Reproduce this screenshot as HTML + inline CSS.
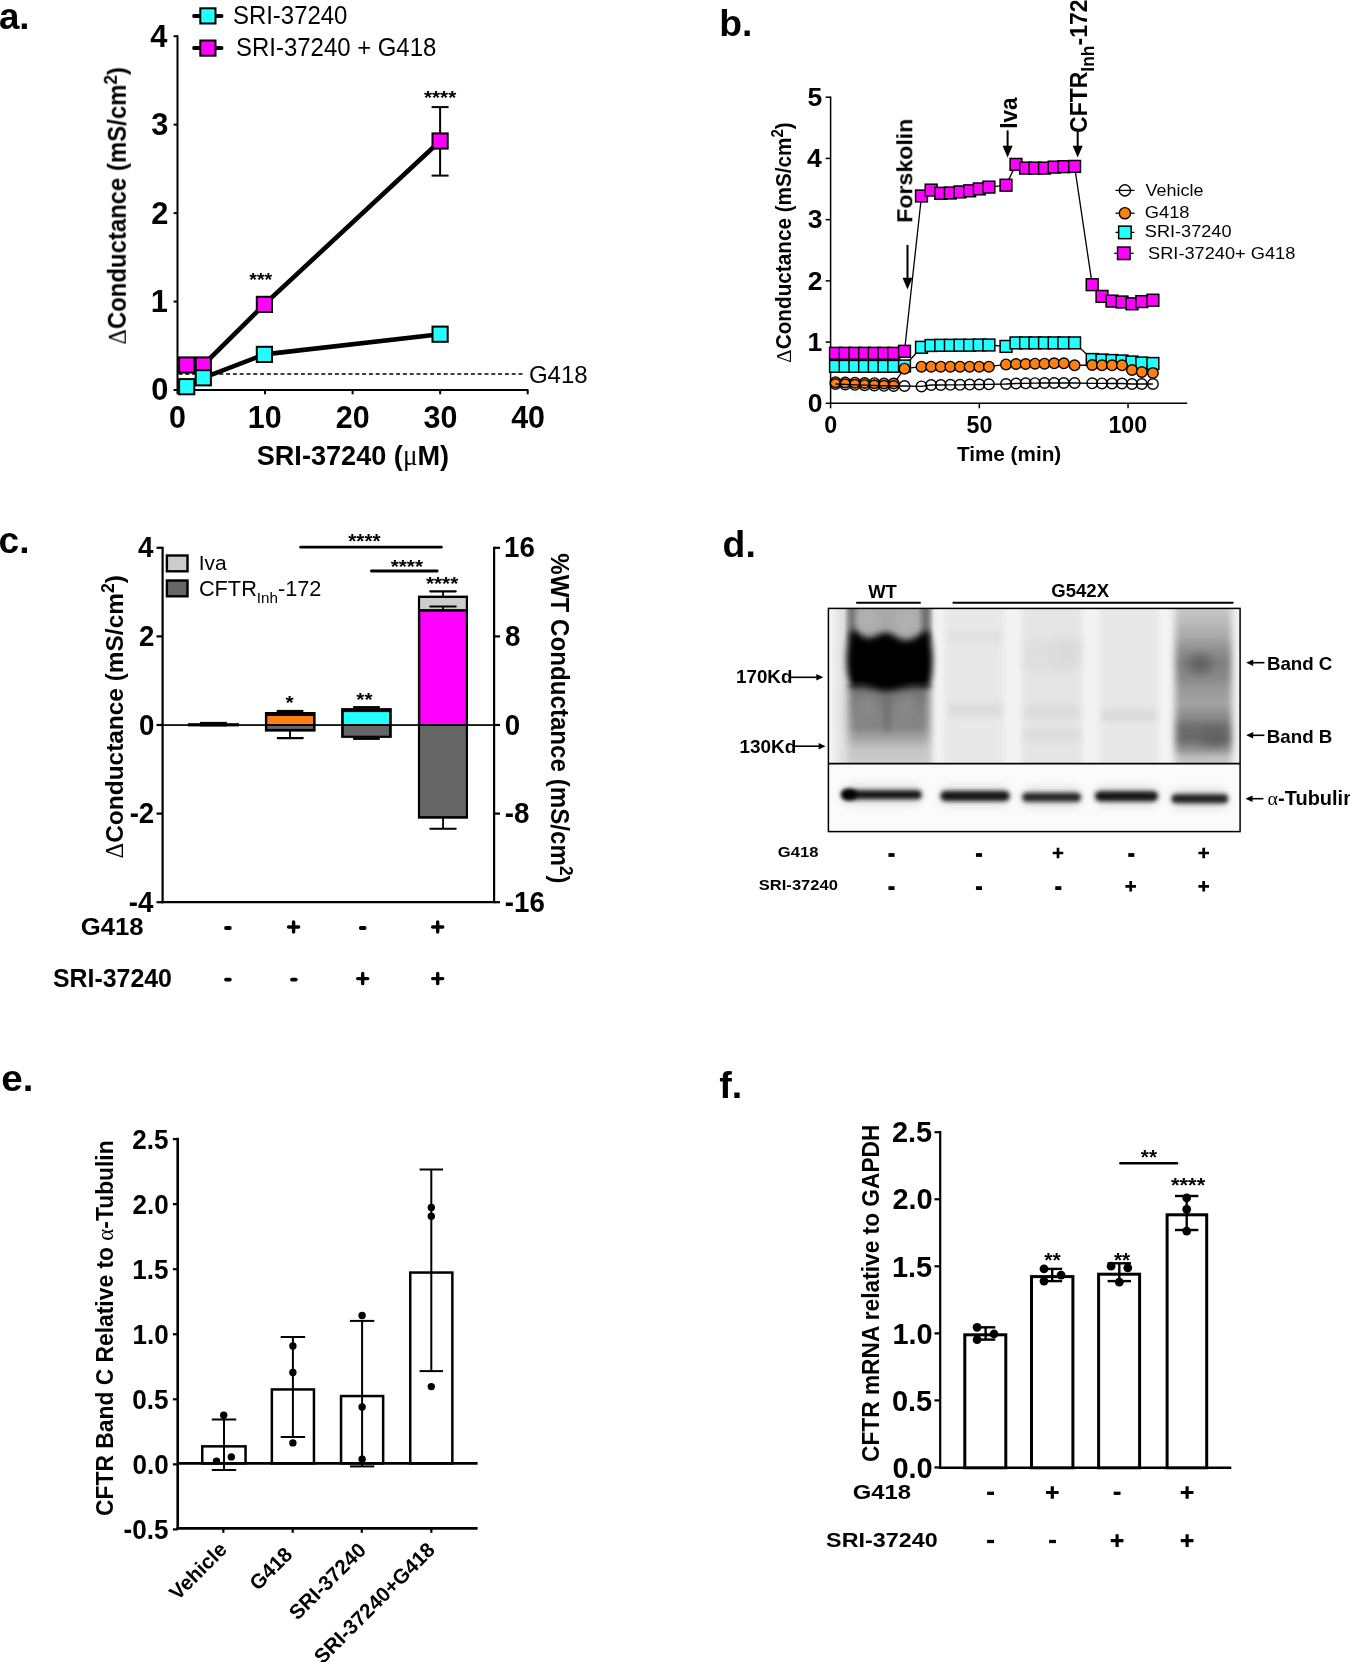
<!DOCTYPE html>
<html><head><meta charset="utf-8"><style>
html,body{margin:0;padding:0;background:#fff;}
body{width:1350px;height:1662px;overflow:hidden;}
svg{display:block;}
text{font-family:"Liberation Sans", sans-serif;}
</style></head><body>
<svg width="1350" height="1662" viewBox="0 0 1350 1662">
<rect x="0" y="0" width="1350" height="1662" fill="#fff"/>
<line x1="177.50" y1="35.20" x2="177.50" y2="391.00" stroke="#000" stroke-width="2" />
<line x1="176.50" y1="390.00" x2="528.30" y2="390.00" stroke="#000" stroke-width="2" />
<line x1="173.60" y1="390.00" x2="177.50" y2="390.00" stroke="#000" stroke-width="2" />
<line x1="173.60" y1="301.55" x2="177.50" y2="301.55" stroke="#000" stroke-width="2" />
<line x1="173.60" y1="213.10" x2="177.50" y2="213.10" stroke="#000" stroke-width="2" />
<line x1="173.60" y1="124.65" x2="177.50" y2="124.65" stroke="#000" stroke-width="2" />
<line x1="173.60" y1="36.20" x2="177.50" y2="36.20" stroke="#000" stroke-width="2" />
<line x1="177.50" y1="390.00" x2="177.50" y2="394.30" stroke="#000" stroke-width="2" />
<line x1="265.05" y1="390.00" x2="265.05" y2="394.30" stroke="#000" stroke-width="2" />
<line x1="352.60" y1="390.00" x2="352.60" y2="394.30" stroke="#000" stroke-width="2" />
<line x1="440.15" y1="390.00" x2="440.15" y2="394.30" stroke="#000" stroke-width="2" />
<line x1="527.70" y1="390.00" x2="527.70" y2="394.30" stroke="#000" stroke-width="2" />
<line x1="178.50" y1="374.10" x2="523.70" y2="374.10" stroke="#000" stroke-width="1.5" stroke-dasharray="4 2.8"/>
<line x1="440.10" y1="107.10" x2="440.10" y2="175.60" stroke="#000" stroke-width="2" />
<line x1="431.60" y1="107.10" x2="448.60" y2="107.10" stroke="#000" stroke-width="2" />
<line x1="431.60" y1="175.60" x2="448.60" y2="175.60" stroke="#000" stroke-width="2" />
<polyline points="186.70,365.00 203.30,365.00 264.40,304.40 440.10,141.00" fill="none" stroke="#000" stroke-width="4.6" stroke-linejoin="round" />
<polyline points="186.70,386.70 203.30,377.80 264.40,354.40 440.10,334.20" fill="none" stroke="#000" stroke-width="4.6" stroke-linejoin="round" />
<rect x="179.10" y="357.40" width="15.20" height="15.20" fill="#ff00ff" stroke="#000" stroke-width="2" />
<rect x="195.70" y="357.40" width="15.20" height="15.20" fill="#ff00ff" stroke="#000" stroke-width="2" />
<rect x="256.80" y="296.80" width="15.20" height="15.20" fill="#ff00ff" stroke="#000" stroke-width="2" />
<rect x="432.50" y="133.40" width="15.20" height="15.20" fill="#ff00ff" stroke="#000" stroke-width="2" />
<rect x="179.10" y="379.10" width="15.20" height="15.20" fill="#22ffff" stroke="#000" stroke-width="2" />
<rect x="195.70" y="370.20" width="15.20" height="15.20" fill="#22ffff" stroke="#000" stroke-width="2" />
<rect x="256.80" y="346.80" width="15.20" height="15.20" fill="#22ffff" stroke="#000" stroke-width="2" />
<rect x="432.50" y="326.60" width="15.20" height="15.20" fill="#22ffff" stroke="#000" stroke-width="2" />
<line x1="194.10" y1="16.10" x2="221.50" y2="16.10" stroke="#000" stroke-width="4" stroke-linecap="round"/>
<rect x="200.30" y="8.30" width="15.20" height="15.20" fill="#22ffff" stroke="#000" stroke-width="2" />
<line x1="194.10" y1="48.10" x2="221.50" y2="48.10" stroke="#000" stroke-width="4" stroke-linecap="round"/>
<rect x="200.30" y="40.50" width="15.20" height="15.20" fill="#ff00ff" stroke="#000" stroke-width="2" />
<line x1="830.60" y1="96.45" x2="830.60" y2="404.05" stroke="#000" stroke-width="1.5" />
<line x1="829.85" y1="403.30" x2="1187.20" y2="403.30" stroke="#000" stroke-width="1.5" />
<line x1="825.60" y1="403.30" x2="830.60" y2="403.30" stroke="#000" stroke-width="1.5" />
<line x1="825.60" y1="342.08" x2="830.60" y2="342.08" stroke="#000" stroke-width="1.5" />
<line x1="825.60" y1="280.86" x2="830.60" y2="280.86" stroke="#000" stroke-width="1.5" />
<line x1="825.60" y1="219.64" x2="830.60" y2="219.64" stroke="#000" stroke-width="1.5" />
<line x1="825.60" y1="158.42" x2="830.60" y2="158.42" stroke="#000" stroke-width="1.5" />
<line x1="825.60" y1="97.20" x2="830.60" y2="97.20" stroke="#000" stroke-width="1.5" />
<line x1="830.60" y1="403.30" x2="830.60" y2="408.30" stroke="#000" stroke-width="1.5" />
<line x1="979.33" y1="403.30" x2="979.33" y2="408.30" stroke="#000" stroke-width="1.5" />
<line x1="1128.05" y1="403.30" x2="1128.05" y2="408.30" stroke="#000" stroke-width="1.5" />
<line x1="907.50" y1="244.90" x2="907.50" y2="278.80" stroke="#000" stroke-width="2" />
<polygon points="902.5,277.8 912.5,277.8 907.5,289.5" fill="#000"/>
<line x1="1007.60" y1="130.40" x2="1007.60" y2="146.80" stroke="#000" stroke-width="2" />
<polygon points="1002.6,145.8 1012.6,145.8 1007.6,157.5" fill="#000"/>
<line x1="1077.70" y1="132.00" x2="1077.70" y2="146.80" stroke="#000" stroke-width="2" />
<polygon points="1072.7,145.8 1082.7,145.8 1077.7,157.5" fill="#000"/>
<polyline points="835.50,353.30 845.20,353.30 854.90,353.30 864.60,353.30 874.30,353.30 884.00,353.30 893.70,353.30 904.50,351.30 921.50,196.00 931.13,190.10 940.76,193.30 950.39,193.00 960.02,191.90 969.65,190.80 979.28,188.90 988.91,187.10 1006.00,185.20 1016.00,164.40 1025.60,168.10 1035.00,168.10 1044.50,168.10 1054.20,167.10 1063.80,166.70 1074.60,166.40 1092.20,284.70 1102.00,296.40 1112.00,301.10 1122.00,302.00 1132.00,303.80 1141.80,301.60 1152.90,300.20" fill="none" stroke="#000" stroke-width="1.3" stroke-linejoin="round" />
<rect x="829.60" y="347.40" width="11.80" height="11.80" fill="#ff00ff" stroke="#000" stroke-width="1.5" />
<rect x="839.30" y="347.40" width="11.80" height="11.80" fill="#ff00ff" stroke="#000" stroke-width="1.5" />
<rect x="849.00" y="347.40" width="11.80" height="11.80" fill="#ff00ff" stroke="#000" stroke-width="1.5" />
<rect x="858.70" y="347.40" width="11.80" height="11.80" fill="#ff00ff" stroke="#000" stroke-width="1.5" />
<rect x="868.40" y="347.40" width="11.80" height="11.80" fill="#ff00ff" stroke="#000" stroke-width="1.5" />
<rect x="878.10" y="347.40" width="11.80" height="11.80" fill="#ff00ff" stroke="#000" stroke-width="1.5" />
<rect x="887.80" y="347.40" width="11.80" height="11.80" fill="#ff00ff" stroke="#000" stroke-width="1.5" />
<rect x="898.60" y="345.40" width="11.80" height="11.80" fill="#ff00ff" stroke="#000" stroke-width="1.5" />
<rect x="915.60" y="190.10" width="11.80" height="11.80" fill="#ff00ff" stroke="#000" stroke-width="1.5" />
<rect x="925.23" y="184.20" width="11.80" height="11.80" fill="#ff00ff" stroke="#000" stroke-width="1.5" />
<rect x="934.86" y="187.40" width="11.80" height="11.80" fill="#ff00ff" stroke="#000" stroke-width="1.5" />
<rect x="944.49" y="187.10" width="11.80" height="11.80" fill="#ff00ff" stroke="#000" stroke-width="1.5" />
<rect x="954.12" y="186.00" width="11.80" height="11.80" fill="#ff00ff" stroke="#000" stroke-width="1.5" />
<rect x="963.75" y="184.90" width="11.80" height="11.80" fill="#ff00ff" stroke="#000" stroke-width="1.5" />
<rect x="973.38" y="183.00" width="11.80" height="11.80" fill="#ff00ff" stroke="#000" stroke-width="1.5" />
<rect x="983.01" y="181.20" width="11.80" height="11.80" fill="#ff00ff" stroke="#000" stroke-width="1.5" />
<rect x="1000.10" y="179.30" width="11.80" height="11.80" fill="#ff00ff" stroke="#000" stroke-width="1.5" />
<rect x="1010.10" y="158.50" width="11.80" height="11.80" fill="#ff00ff" stroke="#000" stroke-width="1.5" />
<rect x="1019.70" y="162.20" width="11.80" height="11.80" fill="#ff00ff" stroke="#000" stroke-width="1.5" />
<rect x="1029.10" y="162.20" width="11.80" height="11.80" fill="#ff00ff" stroke="#000" stroke-width="1.5" />
<rect x="1038.60" y="162.20" width="11.80" height="11.80" fill="#ff00ff" stroke="#000" stroke-width="1.5" />
<rect x="1048.30" y="161.20" width="11.80" height="11.80" fill="#ff00ff" stroke="#000" stroke-width="1.5" />
<rect x="1057.90" y="160.80" width="11.80" height="11.80" fill="#ff00ff" stroke="#000" stroke-width="1.5" />
<rect x="1068.70" y="160.50" width="11.80" height="11.80" fill="#ff00ff" stroke="#000" stroke-width="1.5" />
<rect x="1086.30" y="278.80" width="11.80" height="11.80" fill="#ff00ff" stroke="#000" stroke-width="1.5" />
<rect x="1096.10" y="290.50" width="11.80" height="11.80" fill="#ff00ff" stroke="#000" stroke-width="1.5" />
<rect x="1106.10" y="295.20" width="11.80" height="11.80" fill="#ff00ff" stroke="#000" stroke-width="1.5" />
<rect x="1116.10" y="296.10" width="11.80" height="11.80" fill="#ff00ff" stroke="#000" stroke-width="1.5" />
<rect x="1126.10" y="297.90" width="11.80" height="11.80" fill="#ff00ff" stroke="#000" stroke-width="1.5" />
<rect x="1135.90" y="295.70" width="11.80" height="11.80" fill="#ff00ff" stroke="#000" stroke-width="1.5" />
<rect x="1147.00" y="294.30" width="11.80" height="11.80" fill="#ff00ff" stroke="#000" stroke-width="1.5" />
<polyline points="835.50,366.30 845.20,366.30 854.90,366.30 864.60,366.30 874.30,366.30 884.00,366.30 893.70,366.30 904.50,366.00 921.50,347.30 931.13,345.50 940.76,345.30 950.39,345.30 960.02,345.20 969.65,345.20 979.28,345.00 988.91,345.00 1006.00,346.40 1016.00,342.90 1025.60,342.90 1035.00,342.90 1044.50,342.90 1054.20,342.90 1063.80,342.90 1074.60,342.90 1092.20,359.50 1102.00,360.00 1112.00,360.50 1122.00,361.00 1132.00,362.00 1141.80,363.00 1152.90,363.50" fill="none" stroke="#000" stroke-width="1.3" stroke-linejoin="round" />
<rect x="829.60" y="360.40" width="11.80" height="11.80" fill="#22ffff" stroke="#000" stroke-width="1.5" />
<rect x="839.30" y="360.40" width="11.80" height="11.80" fill="#22ffff" stroke="#000" stroke-width="1.5" />
<rect x="849.00" y="360.40" width="11.80" height="11.80" fill="#22ffff" stroke="#000" stroke-width="1.5" />
<rect x="858.70" y="360.40" width="11.80" height="11.80" fill="#22ffff" stroke="#000" stroke-width="1.5" />
<rect x="868.40" y="360.40" width="11.80" height="11.80" fill="#22ffff" stroke="#000" stroke-width="1.5" />
<rect x="878.10" y="360.40" width="11.80" height="11.80" fill="#22ffff" stroke="#000" stroke-width="1.5" />
<rect x="887.80" y="360.40" width="11.80" height="11.80" fill="#22ffff" stroke="#000" stroke-width="1.5" />
<rect x="898.60" y="360.10" width="11.80" height="11.80" fill="#22ffff" stroke="#000" stroke-width="1.5" />
<rect x="915.60" y="341.40" width="11.80" height="11.80" fill="#22ffff" stroke="#000" stroke-width="1.5" />
<rect x="925.23" y="339.60" width="11.80" height="11.80" fill="#22ffff" stroke="#000" stroke-width="1.5" />
<rect x="934.86" y="339.40" width="11.80" height="11.80" fill="#22ffff" stroke="#000" stroke-width="1.5" />
<rect x="944.49" y="339.40" width="11.80" height="11.80" fill="#22ffff" stroke="#000" stroke-width="1.5" />
<rect x="954.12" y="339.30" width="11.80" height="11.80" fill="#22ffff" stroke="#000" stroke-width="1.5" />
<rect x="963.75" y="339.30" width="11.80" height="11.80" fill="#22ffff" stroke="#000" stroke-width="1.5" />
<rect x="973.38" y="339.10" width="11.80" height="11.80" fill="#22ffff" stroke="#000" stroke-width="1.5" />
<rect x="983.01" y="339.10" width="11.80" height="11.80" fill="#22ffff" stroke="#000" stroke-width="1.5" />
<rect x="1000.10" y="340.50" width="11.80" height="11.80" fill="#22ffff" stroke="#000" stroke-width="1.5" />
<rect x="1010.10" y="337.00" width="11.80" height="11.80" fill="#22ffff" stroke="#000" stroke-width="1.5" />
<rect x="1019.70" y="337.00" width="11.80" height="11.80" fill="#22ffff" stroke="#000" stroke-width="1.5" />
<rect x="1029.10" y="337.00" width="11.80" height="11.80" fill="#22ffff" stroke="#000" stroke-width="1.5" />
<rect x="1038.60" y="337.00" width="11.80" height="11.80" fill="#22ffff" stroke="#000" stroke-width="1.5" />
<rect x="1048.30" y="337.00" width="11.80" height="11.80" fill="#22ffff" stroke="#000" stroke-width="1.5" />
<rect x="1057.90" y="337.00" width="11.80" height="11.80" fill="#22ffff" stroke="#000" stroke-width="1.5" />
<rect x="1068.70" y="337.00" width="11.80" height="11.80" fill="#22ffff" stroke="#000" stroke-width="1.5" />
<rect x="1086.30" y="353.60" width="11.80" height="11.80" fill="#22ffff" stroke="#000" stroke-width="1.5" />
<rect x="1096.10" y="354.10" width="11.80" height="11.80" fill="#22ffff" stroke="#000" stroke-width="1.5" />
<rect x="1106.10" y="354.60" width="11.80" height="11.80" fill="#22ffff" stroke="#000" stroke-width="1.5" />
<rect x="1116.10" y="355.10" width="11.80" height="11.80" fill="#22ffff" stroke="#000" stroke-width="1.5" />
<rect x="1126.10" y="356.10" width="11.80" height="11.80" fill="#22ffff" stroke="#000" stroke-width="1.5" />
<rect x="1135.90" y="357.10" width="11.80" height="11.80" fill="#22ffff" stroke="#000" stroke-width="1.5" />
<rect x="1147.00" y="357.60" width="11.80" height="11.80" fill="#22ffff" stroke="#000" stroke-width="1.5" />
<polyline points="835.50,382.20 845.20,382.50 854.90,382.70 864.60,383.00 874.30,383.20 884.00,383.40 893.70,383.60 904.50,368.70 921.50,366.70 931.13,366.70 940.76,366.70 950.39,366.70 960.02,366.70 969.65,366.70 979.28,366.70 988.91,366.70 1006.00,364.40 1016.00,364.00 1025.60,364.00 1035.00,363.70 1044.50,363.70 1054.20,363.30 1063.80,363.30 1074.60,365.30 1092.20,365.00 1102.00,365.30 1112.00,365.30 1122.00,365.30 1132.00,370.00 1141.80,372.00 1152.90,373.00" fill="none" stroke="#000" stroke-width="1.3" stroke-linejoin="round" />
<circle cx="835.50" cy="382.20" r="5.3" fill="#ff8010" stroke="#000" stroke-width="1.4"/>
<circle cx="845.20" cy="382.50" r="5.3" fill="#ff8010" stroke="#000" stroke-width="1.4"/>
<circle cx="854.90" cy="382.70" r="5.3" fill="#ff8010" stroke="#000" stroke-width="1.4"/>
<circle cx="864.60" cy="383.00" r="5.3" fill="#ff8010" stroke="#000" stroke-width="1.4"/>
<circle cx="874.30" cy="383.20" r="5.3" fill="#ff8010" stroke="#000" stroke-width="1.4"/>
<circle cx="884.00" cy="383.40" r="5.3" fill="#ff8010" stroke="#000" stroke-width="1.4"/>
<circle cx="893.70" cy="383.60" r="5.3" fill="#ff8010" stroke="#000" stroke-width="1.4"/>
<circle cx="904.50" cy="368.70" r="5.3" fill="#ff8010" stroke="#000" stroke-width="1.4"/>
<circle cx="921.50" cy="366.70" r="5.3" fill="#ff8010" stroke="#000" stroke-width="1.4"/>
<circle cx="931.13" cy="366.70" r="5.3" fill="#ff8010" stroke="#000" stroke-width="1.4"/>
<circle cx="940.76" cy="366.70" r="5.3" fill="#ff8010" stroke="#000" stroke-width="1.4"/>
<circle cx="950.39" cy="366.70" r="5.3" fill="#ff8010" stroke="#000" stroke-width="1.4"/>
<circle cx="960.02" cy="366.70" r="5.3" fill="#ff8010" stroke="#000" stroke-width="1.4"/>
<circle cx="969.65" cy="366.70" r="5.3" fill="#ff8010" stroke="#000" stroke-width="1.4"/>
<circle cx="979.28" cy="366.70" r="5.3" fill="#ff8010" stroke="#000" stroke-width="1.4"/>
<circle cx="988.91" cy="366.70" r="5.3" fill="#ff8010" stroke="#000" stroke-width="1.4"/>
<circle cx="1006.00" cy="364.40" r="5.3" fill="#ff8010" stroke="#000" stroke-width="1.4"/>
<circle cx="1016.00" cy="364.00" r="5.3" fill="#ff8010" stroke="#000" stroke-width="1.4"/>
<circle cx="1025.60" cy="364.00" r="5.3" fill="#ff8010" stroke="#000" stroke-width="1.4"/>
<circle cx="1035.00" cy="363.70" r="5.3" fill="#ff8010" stroke="#000" stroke-width="1.4"/>
<circle cx="1044.50" cy="363.70" r="5.3" fill="#ff8010" stroke="#000" stroke-width="1.4"/>
<circle cx="1054.20" cy="363.30" r="5.3" fill="#ff8010" stroke="#000" stroke-width="1.4"/>
<circle cx="1063.80" cy="363.30" r="5.3" fill="#ff8010" stroke="#000" stroke-width="1.4"/>
<circle cx="1074.60" cy="365.30" r="5.3" fill="#ff8010" stroke="#000" stroke-width="1.4"/>
<circle cx="1092.20" cy="365.00" r="5.3" fill="#ff8010" stroke="#000" stroke-width="1.4"/>
<circle cx="1102.00" cy="365.30" r="5.3" fill="#ff8010" stroke="#000" stroke-width="1.4"/>
<circle cx="1112.00" cy="365.30" r="5.3" fill="#ff8010" stroke="#000" stroke-width="1.4"/>
<circle cx="1122.00" cy="365.30" r="5.3" fill="#ff8010" stroke="#000" stroke-width="1.4"/>
<circle cx="1132.00" cy="370.00" r="5.3" fill="#ff8010" stroke="#000" stroke-width="1.4"/>
<circle cx="1141.80" cy="372.00" r="5.3" fill="#ff8010" stroke="#000" stroke-width="1.4"/>
<circle cx="1152.90" cy="373.00" r="5.3" fill="#ff8010" stroke="#000" stroke-width="1.4"/>
<polyline points="835.50,384.00 845.20,384.40 854.90,384.80 864.60,385.20 874.30,385.50 884.00,385.80 893.70,386.00 904.50,386.00 921.50,386.40 931.13,385.00 940.76,385.00 950.39,384.80 960.02,384.80 969.65,384.60 979.28,384.50 988.91,384.30 1006.00,384.00 1016.00,383.50 1025.60,383.30 1035.00,383.20 1044.50,383.00 1054.20,383.00 1063.80,383.00 1074.60,383.00 1092.20,383.30 1102.00,383.40 1112.00,383.50 1122.00,383.50 1132.00,384.00 1141.80,384.00 1152.90,384.00" fill="none" stroke="#000" stroke-width="1.3" stroke-linejoin="round" />
<circle cx="835.50" cy="384.00" r="5.3" fill="none" stroke="#000" stroke-width="1.4"/>
<circle cx="845.20" cy="384.40" r="5.3" fill="none" stroke="#000" stroke-width="1.4"/>
<circle cx="854.90" cy="384.80" r="5.3" fill="none" stroke="#000" stroke-width="1.4"/>
<circle cx="864.60" cy="385.20" r="5.3" fill="none" stroke="#000" stroke-width="1.4"/>
<circle cx="874.30" cy="385.50" r="5.3" fill="none" stroke="#000" stroke-width="1.4"/>
<circle cx="884.00" cy="385.80" r="5.3" fill="none" stroke="#000" stroke-width="1.4"/>
<circle cx="893.70" cy="386.00" r="5.3" fill="none" stroke="#000" stroke-width="1.4"/>
<circle cx="904.50" cy="386.00" r="5.3" fill="none" stroke="#000" stroke-width="1.4"/>
<circle cx="921.50" cy="386.40" r="5.3" fill="none" stroke="#000" stroke-width="1.4"/>
<circle cx="931.13" cy="385.00" r="5.3" fill="none" stroke="#000" stroke-width="1.4"/>
<circle cx="940.76" cy="385.00" r="5.3" fill="none" stroke="#000" stroke-width="1.4"/>
<circle cx="950.39" cy="384.80" r="5.3" fill="none" stroke="#000" stroke-width="1.4"/>
<circle cx="960.02" cy="384.80" r="5.3" fill="none" stroke="#000" stroke-width="1.4"/>
<circle cx="969.65" cy="384.60" r="5.3" fill="none" stroke="#000" stroke-width="1.4"/>
<circle cx="979.28" cy="384.50" r="5.3" fill="none" stroke="#000" stroke-width="1.4"/>
<circle cx="988.91" cy="384.30" r="5.3" fill="none" stroke="#000" stroke-width="1.4"/>
<circle cx="1006.00" cy="384.00" r="5.3" fill="none" stroke="#000" stroke-width="1.4"/>
<circle cx="1016.00" cy="383.50" r="5.3" fill="none" stroke="#000" stroke-width="1.4"/>
<circle cx="1025.60" cy="383.30" r="5.3" fill="none" stroke="#000" stroke-width="1.4"/>
<circle cx="1035.00" cy="383.20" r="5.3" fill="none" stroke="#000" stroke-width="1.4"/>
<circle cx="1044.50" cy="383.00" r="5.3" fill="none" stroke="#000" stroke-width="1.4"/>
<circle cx="1054.20" cy="383.00" r="5.3" fill="none" stroke="#000" stroke-width="1.4"/>
<circle cx="1063.80" cy="383.00" r="5.3" fill="none" stroke="#000" stroke-width="1.4"/>
<circle cx="1074.60" cy="383.00" r="5.3" fill="none" stroke="#000" stroke-width="1.4"/>
<circle cx="1092.20" cy="383.30" r="5.3" fill="none" stroke="#000" stroke-width="1.4"/>
<circle cx="1102.00" cy="383.40" r="5.3" fill="none" stroke="#000" stroke-width="1.4"/>
<circle cx="1112.00" cy="383.50" r="5.3" fill="none" stroke="#000" stroke-width="1.4"/>
<circle cx="1122.00" cy="383.50" r="5.3" fill="none" stroke="#000" stroke-width="1.4"/>
<circle cx="1132.00" cy="384.00" r="5.3" fill="none" stroke="#000" stroke-width="1.4"/>
<circle cx="1141.80" cy="384.00" r="5.3" fill="none" stroke="#000" stroke-width="1.4"/>
<circle cx="1152.90" cy="384.00" r="5.3" fill="none" stroke="#000" stroke-width="1.4"/>
<circle cx="1124.90" cy="190.40" r="5.6" fill="#fff" stroke="#000" stroke-width="1.4"/>
<line x1="1115.50" y1="190.40" x2="1134.50" y2="190.40" stroke="#000" stroke-width="1.3" />
<line x1="1115.50" y1="213.20" x2="1134.50" y2="213.20" stroke="#000" stroke-width="1.3" />
<circle cx="1124.90" cy="213.20" r="5.6" fill="#ff8010" stroke="#000" stroke-width="1.4"/>
<line x1="1115.50" y1="232.40" x2="1134.50" y2="232.40" stroke="#000" stroke-width="1.3" />
<rect x="1118.65" y="226.15" width="12.50" height="12.50" fill="#22ffff" stroke="#000" stroke-width="1.5" />
<line x1="1114.20" y1="253.30" x2="1133.60" y2="253.30" stroke="#000" stroke-width="1.3" />
<rect x="1117.55" y="247.05" width="12.50" height="12.50" fill="#ff00ff" stroke="#000" stroke-width="1.5" />
<line x1="162.60" y1="546.70" x2="162.60" y2="903.30" stroke="#000" stroke-width="2.2" />
<line x1="161.50" y1="902.20" x2="495.20" y2="902.20" stroke="#000" stroke-width="2.2" />
<line x1="494.10" y1="546.70" x2="494.10" y2="902.20" stroke="#000" stroke-width="2.2" />
<line x1="156.50" y1="547.80" x2="162.60" y2="547.80" stroke="#000" stroke-width="2.2" />
<line x1="156.50" y1="636.40" x2="162.60" y2="636.40" stroke="#000" stroke-width="2.2" />
<line x1="156.50" y1="725.00" x2="162.60" y2="725.00" stroke="#000" stroke-width="2.2" />
<line x1="156.50" y1="813.60" x2="162.60" y2="813.60" stroke="#000" stroke-width="2.2" />
<line x1="156.50" y1="902.20" x2="162.60" y2="902.20" stroke="#000" stroke-width="2.2" />
<line x1="494.10" y1="547.80" x2="500.00" y2="547.80" stroke="#000" stroke-width="2.2" />
<line x1="494.10" y1="636.40" x2="500.00" y2="636.40" stroke="#000" stroke-width="2.2" />
<line x1="494.10" y1="725.00" x2="500.00" y2="725.00" stroke="#000" stroke-width="2.2" />
<line x1="494.10" y1="813.60" x2="500.00" y2="813.60" stroke="#000" stroke-width="2.2" />
<line x1="494.10" y1="902.20" x2="500.00" y2="902.20" stroke="#000" stroke-width="2.2" />
<rect x="166.90" y="555.50" width="20.60" height="15.80" fill="#cccccc" stroke="#000" stroke-width="2.4" />
<rect x="166.90" y="580.50" width="20.60" height="15.80" fill="#666666" stroke="#000" stroke-width="2.4" />
<rect x="187.90" y="723.20" width="51.10" height="3.20" fill="#000" />
<rect x="200.00" y="721.90" width="26.90" height="4.50" fill="#000" />
<rect x="264.90" y="712.00" width="50.70" height="19.60" fill="#000" />
<rect x="267.30" y="716.00" width="45.80" height="8.20" fill="#ff8010" />
<rect x="267.30" y="726.00" width="45.80" height="2.90" fill="#666666" />
<rect x="276.70" y="709.90" width="26.60" height="2.60" fill="#000" />
<line x1="290.00" y1="731.00" x2="290.00" y2="738.10" stroke="#000" stroke-width="1.9" />
<line x1="277.70" y1="738.10" x2="302.80" y2="738.10" stroke="#000" stroke-width="2.1" stroke-linecap="round"/>
<rect x="341.10" y="708.10" width="50.70" height="29.80" fill="#000" />
<rect x="343.80" y="712.10" width="45.30" height="12.00" fill="#22ffff" />
<rect x="343.80" y="725.90" width="45.30" height="9.80" fill="#666666" />
<rect x="353.10" y="706.10" width="26.70" height="2.40" fill="#000" />
<rect x="353.10" y="737.50" width="26.70" height="2.40" fill="#000" />
<rect x="417.90" y="595.60" width="50.10" height="223.10" fill="#000" />
<rect x="420.10" y="598.00" width="45.70" height="11.10" fill="#cccccc" />
<rect x="420.30" y="611.70" width="45.50" height="112.50" fill="#ff00ff" />
<rect x="420.10" y="725.90" width="45.70" height="90.20" fill="#666666" />
<line x1="443.05" y1="591.40" x2="443.05" y2="596.00" stroke="#000" stroke-width="1.8" />
<line x1="430.30" y1="591.40" x2="455.70" y2="591.40" stroke="#000" stroke-width="2.1" stroke-linecap="round"/>
<line x1="443.05" y1="606.50" x2="443.05" y2="610.00" stroke="#000" stroke-width="1.8" />
<line x1="430.30" y1="606.50" x2="455.70" y2="606.50" stroke="#000" stroke-width="2.1" stroke-linecap="round"/>
<line x1="443.05" y1="818.00" x2="443.05" y2="828.70" stroke="#000" stroke-width="1.8" />
<line x1="430.30" y1="828.70" x2="455.70" y2="828.70" stroke="#000" stroke-width="2.1" stroke-linecap="round"/>
<rect x="162.60" y="724.20" width="331.50" height="1.70" fill="#000" />
<line x1="300.70" y1="547.20" x2="441.30" y2="547.20" stroke="#000" stroke-width="2.8" stroke-linecap="round"/>
<line x1="371.40" y1="571.00" x2="437.20" y2="571.00" stroke="#000" stroke-width="2.8" stroke-linecap="round"/>
<path d="M226.00,928.00H229.80" stroke="#000" stroke-width="3.8" stroke-linecap="round" fill="none"/>
<path d="M288.55,927.00H298.65M293.60,921.95V932.05" stroke="#000" stroke-width="3.4" stroke-linecap="round" fill="none"/>
<path d="M360.80,928.00H364.60" stroke="#000" stroke-width="3.8" stroke-linecap="round" fill="none"/>
<path d="M432.65,927.00H442.75M437.70,921.95V932.05" stroke="#000" stroke-width="3.4" stroke-linecap="round" fill="none"/>
<path d="M226.00,979.60H229.80" stroke="#000" stroke-width="3.8" stroke-linecap="round" fill="none"/>
<path d="M292.00,979.60H295.80" stroke="#000" stroke-width="3.8" stroke-linecap="round" fill="none"/>
<path d="M357.65,978.60H367.75M362.70,973.55V983.65" stroke="#000" stroke-width="3.4" stroke-linecap="round" fill="none"/>
<path d="M432.65,978.60H442.75M437.70,973.55V983.65" stroke="#000" stroke-width="3.4" stroke-linecap="round" fill="none"/>
<defs><filter id="b2" x="-50%" y="-50%" width="200%" height="200%"><feGaussianBlur stdDeviation="2"/></filter><filter id="b3" x="-50%" y="-50%" width="200%" height="200%"><feGaussianBlur stdDeviation="3"/></filter><filter id="b5" x="-50%" y="-50%" width="200%" height="200%"><feGaussianBlur stdDeviation="5"/></filter><filter id="b8" x="-50%" y="-50%" width="200%" height="200%"><feGaussianBlur stdDeviation="8"/></filter><clipPath id="cT"><rect x="828.4" y="608.4" width="411.7" height="155.2"/></clipPath><clipPath id="cB"><rect x="828.4" y="763.6" width="411.7" height="68"/></clipPath></defs>
<g clip-path="url(#cT)">
<rect x="828.40" y="608.40" width="411.70" height="155.20" fill="#f3f3f3" />
<rect x="836" y="600" width="12" height="170" fill="#e2e2e2" filter="url(#b3)"/>
<rect x="944.7" y="600" width="59.299999999999955" height="170" fill="#e8e8e8" filter="url(#b3)"/>
<rect x="1021.8" y="600" width="60.40000000000009" height="170" fill="#e5e5e5" filter="url(#b3)"/>
<rect x="1099.5" y="600" width="59.200000000000045" height="170" fill="#e8e8e8" filter="url(#b3)"/>
<rect x="847" y="600" width="84" height="170" fill="#d0d0d0" filter="url(#b3)"/>
<rect x="848" y="600" width="82" height="42" fill="#a8a8a8" filter="url(#b3)"/>
<rect x="849" y="600" width="7" height="40" fill="#5a5a5a" filter="url(#b3)"/>
<rect x="922" y="600" width="7" height="40" fill="#5a5a5a" filter="url(#b3)"/>
<ellipse cx="867" cy="618" rx="11" ry="14" fill="#b0b0b0" filter="url(#b5)"/>
<ellipse cx="906" cy="620" rx="12" ry="15" fill="#b0b0b0" filter="url(#b5)"/>
<linearGradient id="gwt" x1="0" y1="684" x2="0" y2="768" gradientUnits="userSpaceOnUse"><stop offset="0" stop-color="#6e6e6e"/><stop offset="0.30" stop-color="#7e7e7e"/><stop offset="0.52" stop-color="#868686"/><stop offset="0.66" stop-color="#a8a8a8"/><stop offset="0.78" stop-color="#c4c4c4"/><stop offset="1" stop-color="#d0d0d0"/></linearGradient>
<filter id="bx4" x="-50%" y="-50%" width="200%" height="200%"><feGaussianBlur stdDeviation="4 1"/></filter>
<rect x="849" y="684" width="80" height="84" fill="url(#gwt)" filter="url(#bx4)"/>
<ellipse cx="867" cy="708" rx="11" ry="13" fill="#888888" filter="url(#b5)"/>
<ellipse cx="906" cy="708" rx="11" ry="13" fill="#888888" filter="url(#b5)"/>
<rect x="884" y="690" width="6" height="40" fill="#707070" filter="url(#b3)"/>
<path d="M851,631 C856,629 861,636 866,637.5 C874,639 880,632.5 886,632.5 C892,632.5 898,640 906,640 C914,640 921,633 928,630 C934,648 934,672 929,688 C921,687 914,686 906,687.5 C898,689 892,691 886,691 C878,691 870,686.5 862,686.5 C858,686.5 855,687.5 851.5,688 C845,672 845,648 851,631 Z" fill="#000" filter="url(#b3)"/>
<rect x="948" y="631" width="54" height="12" fill="#e0e0e0" filter="url(#b3)"/>
<rect x="948" y="703" width="54" height="13" fill="#dcdcdc" filter="url(#b3)"/>
<rect x="1025" y="640" width="54" height="30" fill="#dedede" filter="url(#b5)"/>
<rect x="1055" y="640" width="22" height="26" fill="#dadada" filter="url(#b5)"/>
<rect x="1025" y="705" width="54" height="13" fill="#dbdbdb" filter="url(#b3)"/>
<rect x="1025" y="729" width="54" height="13" fill="#dddddd" filter="url(#b3)"/>
<rect x="1102" y="709" width="54" height="12" fill="#dadada" filter="url(#b3)"/>
<linearGradient id="g5" x1="0" y1="605" x2="0" y2="765" gradientUnits="userSpaceOnUse"><stop offset="0" stop-color="#cacaca"/><stop offset="0.10" stop-color="#bcbcbc"/><stop offset="0.20" stop-color="#a8a8a8"/><stop offset="0.27" stop-color="#929292"/><stop offset="0.36" stop-color="#808080"/><stop offset="0.45" stop-color="#888888"/><stop offset="0.53" stop-color="#9a9a9a"/><stop offset="0.62" stop-color="#a2a2a2"/><stop offset="0.70" stop-color="#8a8a8a"/><stop offset="0.76" stop-color="#6e6e6e"/><stop offset="0.84" stop-color="#6a6a6a"/><stop offset="0.90" stop-color="#8e8e8e"/><stop offset="0.95" stop-color="#bcbcbc"/><stop offset="1" stop-color="#cccccc"/></linearGradient>
<filter id="bx" x="-50%" y="-50%" width="200%" height="200%"><feGaussianBlur stdDeviation="3.5 1.5"/></filter>
<rect x="1175" y="600" width="57" height="170" fill="url(#g5)" filter="url(#bx)"/>
<ellipse cx="1200" cy="664" rx="12" ry="10" fill="#646464" filter="url(#b5)"/>
<ellipse cx="1214" cy="737" rx="12" ry="8" fill="#606060" filter="url(#b5)"/>
</g>
<g clip-path="url(#cB)">
<rect x="828.40" y="763.60" width="411.70" height="68.00" fill="#fbfbfb" />
<rect x="842.6" y="785.8" width="79.19999999999993" height="18" rx="8" fill="#d8d8d8" filter="url(#b5)"/>
<rect x="940.5" y="787.1" width="69.10000000000002" height="18" rx="8" fill="#d8d8d8" filter="url(#b5)"/>
<rect x="1022.2" y="788.3" width="58.799999999999955" height="18" rx="8" fill="#d8d8d8" filter="url(#b5)"/>
<rect x="1095" y="787.3" width="63" height="18" rx="8" fill="#d8d8d8" filter="url(#b5)"/>
<rect x="1171.4" y="789.8" width="56.899999999999864" height="18" rx="8" fill="#d8d8d8" filter="url(#b5)"/>
<rect x="842.6" y="790.3" width="79.19999999999993" height="9" rx="4.5" fill="#181818" filter="url(#b2)"/>
<rect x="940.5" y="791.1" width="69.10000000000002" height="10" rx="5.0" fill="#161616" filter="url(#b2)"/>
<rect x="1022.2" y="792.8" width="58.799999999999955" height="9" rx="4.5" fill="#282828" filter="url(#b2)"/>
<rect x="1095" y="791.3" width="63" height="10" rx="5.0" fill="#121212" filter="url(#b2)"/>
<rect x="1171.4" y="794.3" width="56.899999999999864" height="9" rx="4.5" fill="#202020" filter="url(#b2)"/>
<ellipse cx="849" cy="794.5" rx="8" ry="5.5" fill="#000" filter="url(#b2)"/>
</g>
<rect x="828.40" y="608.40" width="411.70" height="223.20" fill="none" stroke="#000" stroke-width="1.5" />
<line x1="828.40" y1="763.60" x2="1240.10" y2="763.60" stroke="#000" stroke-width="1.8" />
<line x1="856.20" y1="602.70" x2="920.70" y2="602.70" stroke="#000" stroke-width="2" />
<line x1="952.60" y1="602.80" x2="1233.50" y2="602.80" stroke="#000" stroke-width="2" />
<line x1="791.00" y1="677.30" x2="817.30" y2="677.30" stroke="#000" stroke-width="1.6" />
<polygon points="816.3,674.0999999999999 823.3,677.3 816.3,680.5" fill="#000"/>
<line x1="795.00" y1="746.20" x2="819.60" y2="746.20" stroke="#000" stroke-width="1.6" />
<polygon points="818.6,743.0 825.6,746.2 818.6,749.4000000000001" fill="#000"/>
<line x1="1252.20" y1="662.70" x2="1264.40" y2="662.70" stroke="#000" stroke-width="1.6" />
<polygon points="1253.2,659.5 1246.2,662.7 1253.2,665.9000000000001" fill="#000"/>
<line x1="1252.20" y1="735.30" x2="1264.40" y2="735.30" stroke="#000" stroke-width="1.6" />
<polygon points="1253.2,732.0999999999999 1246.2,735.3 1253.2,738.5" fill="#000"/>
<line x1="1251.50" y1="798.70" x2="1263.40" y2="798.70" stroke="#000" stroke-width="1.6" />
<polygon points="1252.5,795.5 1245.5,798.7 1252.5,801.9000000000001" fill="#000"/>
<path d="M888.45,855.00H894.55" stroke="#000" stroke-width="3.8" stroke-linecap="butt" fill="none"/>
<path d="M975.95,855.00H982.05" stroke="#000" stroke-width="3.8" stroke-linecap="butt" fill="none"/>
<path d="M1052.70,853.00H1063.30M1058.00,847.70V858.30" stroke="#000" stroke-width="2.7" stroke-linecap="butt" fill="none"/>
<path d="M1128.25,855.00H1134.35" stroke="#000" stroke-width="3.8" stroke-linecap="butt" fill="none"/>
<path d="M1198.40,853.00H1209.00M1203.70,847.70V858.30" stroke="#000" stroke-width="2.7" stroke-linecap="butt" fill="none"/>
<path d="M888.45,888.10H894.55" stroke="#000" stroke-width="3.8" stroke-linecap="butt" fill="none"/>
<path d="M975.95,888.10H982.05" stroke="#000" stroke-width="3.8" stroke-linecap="butt" fill="none"/>
<path d="M1055.25,888.10H1061.35" stroke="#000" stroke-width="3.8" stroke-linecap="butt" fill="none"/>
<path d="M1125.40,886.30H1136.00M1130.70,881.00V891.60" stroke="#000" stroke-width="2.7" stroke-linecap="butt" fill="none"/>
<path d="M1198.40,886.30H1209.00M1203.70,881.00V891.60" stroke="#000" stroke-width="2.7" stroke-linecap="butt" fill="none"/>
<line x1="177.70" y1="1137.85" x2="177.70" y2="1528.40" stroke="#000" stroke-width="2.6" />
<line x1="176.40" y1="1528.40" x2="477.60" y2="1528.40" stroke="#000" stroke-width="2.6" />
<line x1="177.70" y1="1463.40" x2="477.60" y2="1463.40" stroke="#000" stroke-width="2.8" />
<line x1="172.90" y1="1139.10" x2="177.70" y2="1139.10" stroke="#000" stroke-width="2.2" />
<line x1="172.90" y1="1204.15" x2="177.70" y2="1204.15" stroke="#000" stroke-width="2.2" />
<line x1="172.90" y1="1269.20" x2="177.70" y2="1269.20" stroke="#000" stroke-width="2.2" />
<line x1="172.90" y1="1334.25" x2="177.70" y2="1334.25" stroke="#000" stroke-width="2.2" />
<line x1="172.90" y1="1399.30" x2="177.70" y2="1399.30" stroke="#000" stroke-width="2.2" />
<line x1="172.90" y1="1464.35" x2="177.70" y2="1464.35" stroke="#000" stroke-width="2.2" />
<line x1="172.90" y1="1529.40" x2="177.70" y2="1529.40" stroke="#000" stroke-width="2.2" />
<line x1="223.30" y1="1528.40" x2="223.30" y2="1532.80" stroke="#000" stroke-width="2.2" />
<line x1="292.70" y1="1528.40" x2="292.70" y2="1532.80" stroke="#000" stroke-width="2.2" />
<line x1="361.80" y1="1528.40" x2="361.80" y2="1532.80" stroke="#000" stroke-width="2.2" />
<line x1="431.30" y1="1528.40" x2="431.30" y2="1532.80" stroke="#000" stroke-width="2.2" />
<rect x="202.25" y="1446.35" width="43.30" height="17.05" fill="none" stroke="#000" stroke-width="2.5" />
<rect x="271.85" y="1389.45" width="42.10" height="73.95" fill="none" stroke="#000" stroke-width="2.5" />
<rect x="341.05" y="1396.05" width="42.10" height="67.35" fill="none" stroke="#000" stroke-width="2.5" />
<rect x="410.25" y="1272.55" width="42.10" height="190.85" fill="none" stroke="#000" stroke-width="2.5" />
<line x1="224.00" y1="1419.50" x2="224.00" y2="1470.00" stroke="#000" stroke-width="2" />
<line x1="211.80" y1="1419.50" x2="236.20" y2="1419.50" stroke="#000" stroke-width="2" />
<line x1="211.80" y1="1470.00" x2="236.20" y2="1470.00" stroke="#000" stroke-width="2" />
<line x1="292.90" y1="1337.00" x2="292.90" y2="1437.00" stroke="#000" stroke-width="2" />
<line x1="280.70" y1="1337.00" x2="305.10" y2="1337.00" stroke="#000" stroke-width="2" />
<line x1="280.70" y1="1437.00" x2="305.10" y2="1437.00" stroke="#000" stroke-width="2" />
<line x1="362.10" y1="1320.90" x2="362.10" y2="1466.40" stroke="#000" stroke-width="2" />
<line x1="349.90" y1="1320.90" x2="374.30" y2="1320.90" stroke="#000" stroke-width="2" />
<line x1="349.90" y1="1466.40" x2="374.30" y2="1466.40" stroke="#000" stroke-width="2" />
<line x1="431.30" y1="1169.50" x2="431.30" y2="1371.10" stroke="#000" stroke-width="2" />
<line x1="419.60" y1="1169.50" x2="443.00" y2="1169.50" stroke="#000" stroke-width="2" />
<line x1="419.60" y1="1371.10" x2="443.00" y2="1371.10" stroke="#000" stroke-width="2" />
<circle cx="223.70" cy="1415.30" r="3.7" fill="#000"/>
<circle cx="216.50" cy="1461.10" r="3.7" fill="#000"/>
<circle cx="231.30" cy="1456.90" r="3.7" fill="#000"/>
<circle cx="292.90" cy="1346.00" r="3.7" fill="#000"/>
<circle cx="292.90" cy="1372.50" r="3.7" fill="#000"/>
<circle cx="292.90" cy="1442.90" r="3.7" fill="#000"/>
<circle cx="362.10" cy="1315.50" r="3.7" fill="#000"/>
<circle cx="362.10" cy="1407.00" r="3.7" fill="#000"/>
<circle cx="362.10" cy="1459.30" r="3.7" fill="#000"/>
<circle cx="431.30" cy="1207.50" r="3.7" fill="#000"/>
<circle cx="431.30" cy="1216.20" r="3.7" fill="#000"/>
<circle cx="431.30" cy="1386.60" r="3.7" fill="#000"/>
<line x1="940.20" y1="1131.10" x2="940.20" y2="1467.80" stroke="#000" stroke-width="2.2" />
<line x1="939.10" y1="1467.80" x2="1231.30" y2="1467.80" stroke="#000" stroke-width="2.5" />
<line x1="934.50" y1="1132.20" x2="940.20" y2="1132.20" stroke="#000" stroke-width="2.2" />
<line x1="934.50" y1="1199.25" x2="940.20" y2="1199.25" stroke="#000" stroke-width="2.2" />
<line x1="934.50" y1="1266.30" x2="940.20" y2="1266.30" stroke="#000" stroke-width="2.2" />
<line x1="934.50" y1="1333.35" x2="940.20" y2="1333.35" stroke="#000" stroke-width="2.2" />
<line x1="934.50" y1="1400.40" x2="940.20" y2="1400.40" stroke="#000" stroke-width="2.2" />
<line x1="934.50" y1="1467.45" x2="940.20" y2="1467.45" stroke="#000" stroke-width="2.2" />
<rect x="964.80" y="1334.80" width="41.00" height="133.00" fill="#fff" stroke="#000" stroke-width="3" />
<rect x="1031.50" y="1276.60" width="41.40" height="191.20" fill="#fff" stroke="#000" stroke-width="3" />
<rect x="1098.60" y="1274.20" width="41.00" height="193.60" fill="#fff" stroke="#000" stroke-width="3" />
<rect x="1167.10" y="1214.80" width="39.60" height="253.00" fill="#fff" stroke="#000" stroke-width="3" />
<line x1="985.60" y1="1327.30" x2="985.60" y2="1339.60" stroke="#000" stroke-width="2.4" />
<line x1="975.90" y1="1327.30" x2="995.30" y2="1327.30" stroke="#000" stroke-width="2.4" />
<line x1="975.90" y1="1339.60" x2="995.30" y2="1339.60" stroke="#000" stroke-width="2.4" />
<line x1="1052.20" y1="1268.90" x2="1052.20" y2="1281.10" stroke="#000" stroke-width="2.4" />
<line x1="1042.20" y1="1268.90" x2="1062.20" y2="1268.90" stroke="#000" stroke-width="2.4" />
<line x1="1042.20" y1="1281.10" x2="1062.20" y2="1281.10" stroke="#000" stroke-width="2.4" />
<line x1="1119.30" y1="1263.30" x2="1119.30" y2="1281.10" stroke="#000" stroke-width="2.4" />
<line x1="1107.60" y1="1263.30" x2="1131.00" y2="1263.30" stroke="#000" stroke-width="2.4" />
<line x1="1107.60" y1="1281.10" x2="1131.00" y2="1281.10" stroke="#000" stroke-width="2.4" />
<line x1="1186.70" y1="1196.00" x2="1186.70" y2="1230.00" stroke="#000" stroke-width="2.4" />
<line x1="1175.00" y1="1196.00" x2="1198.40" y2="1196.00" stroke="#000" stroke-width="2.4" />
<line x1="1175.00" y1="1230.00" x2="1198.40" y2="1230.00" stroke="#000" stroke-width="2.4" />
<circle cx="977.10" cy="1327.30" r="4.4" fill="#000"/>
<circle cx="994.00" cy="1334.00" r="4.4" fill="#000"/>
<circle cx="977.10" cy="1339.60" r="4.4" fill="#000"/>
<circle cx="1044.00" cy="1268.90" r="4.4" fill="#000"/>
<circle cx="1061.10" cy="1275.10" r="4.4" fill="#000"/>
<circle cx="1044.00" cy="1281.10" r="4.4" fill="#000"/>
<circle cx="1111.10" cy="1266.20" r="4.4" fill="#000"/>
<circle cx="1127.80" cy="1267.80" r="4.4" fill="#000"/>
<circle cx="1119.30" cy="1282.20" r="4.4" fill="#000"/>
<circle cx="1186.70" cy="1197.80" r="4.4" fill="#000"/>
<circle cx="1186.70" cy="1209.30" r="4.4" fill="#000"/>
<circle cx="1186.70" cy="1231.10" r="4.4" fill="#000"/>
<line x1="1120.50" y1="1163.30" x2="1177.00" y2="1163.30" stroke="#000" stroke-width="2.6" stroke-linecap="round"/>
<path d="M987.10,1493.30H994.00" stroke="#000" stroke-width="3.3" stroke-linecap="butt" fill="none"/>
<path d="M1045.95,1492.50H1058.65M1052.30,1486.15V1498.85" stroke="#000" stroke-width="3.2" stroke-linecap="butt" fill="none"/>
<path d="M1113.65,1493.30H1120.55" stroke="#000" stroke-width="3.3" stroke-linecap="butt" fill="none"/>
<path d="M1180.75,1492.50H1193.45M1187.10,1486.15V1498.85" stroke="#000" stroke-width="3.2" stroke-linecap="butt" fill="none"/>
<path d="M987.10,1541.50H994.00" stroke="#000" stroke-width="3.3" stroke-linecap="butt" fill="none"/>
<path d="M1049.05,1541.50H1055.95" stroke="#000" stroke-width="3.3" stroke-linecap="butt" fill="none"/>
<path d="M1110.75,1540.70H1123.45M1117.10,1534.35V1547.05" stroke="#000" stroke-width="3.2" stroke-linecap="butt" fill="none"/>
<path d="M1180.75,1540.70H1193.45M1187.10,1534.35V1547.05" stroke="#000" stroke-width="3.2" stroke-linecap="butt" fill="none"/>
<g opacity="0.999">
<text transform="translate(-1.10,29.03)" font-size="36.73" fill="#000" ><tspan font-family='"Liberation Sans", sans-serif' font-weight="bold">a.</tspan></text>
<text transform="translate(151.32,400.40) scale(0.9586,1)" font-size="32.17" fill="#000" ><tspan font-family='"Liberation Sans", sans-serif' font-weight="bold">0</tspan></text>
<text transform="translate(150.85,311.95) scale(0.9586,1)" font-size="32.17" fill="#000" ><tspan font-family='"Liberation Sans", sans-serif' font-weight="bold">1</tspan></text>
<text transform="translate(151.32,223.50) scale(0.9586,1)" font-size="32.17" fill="#000" ><tspan font-family='"Liberation Sans", sans-serif' font-weight="bold">2</tspan></text>
<text transform="translate(151.16,135.05) scale(0.9586,1)" font-size="32.17" fill="#000" ><tspan font-family='"Liberation Sans", sans-serif' font-weight="bold">3</tspan></text>
<text transform="translate(150.24,46.60) scale(0.9586,1)" font-size="32.17" fill="#000" ><tspan font-family='"Liberation Sans", sans-serif' font-weight="bold">4</tspan></text>
<text transform="translate(169.06,428.20) scale(0.9560,1)" font-size="31.83" fill="#000" ><tspan font-family='"Liberation Sans", sans-serif' font-weight="bold">0</tspan></text>
<text transform="translate(247.78,428.20) scale(0.9560,1)" font-size="31.83" fill="#000" ><tspan font-family='"Liberation Sans", sans-serif' font-weight="bold">10</tspan></text>
<text transform="translate(335.79,428.20) scale(0.9560,1)" font-size="31.83" fill="#000" ><tspan font-family='"Liberation Sans", sans-serif' font-weight="bold">20</tspan></text>
<text transform="translate(423.49,428.20) scale(0.9560,1)" font-size="31.83" fill="#000" ><tspan font-family='"Liberation Sans", sans-serif' font-weight="bold">30</tspan></text>
<text transform="translate(511.19,428.20) scale(0.9560,1)" font-size="31.83" fill="#000" ><tspan font-family='"Liberation Sans", sans-serif' font-weight="bold">40</tspan></text>
<text transform="translate(256.69,465.10) scale(0.9535,1)" font-size="28.45" fill="#000" ><tspan font-family='"Liberation Sans", sans-serif' font-weight="bold">SRI-37240 (</tspan><tspan font-family='"Liberation Serif", serif' font-weight="normal">μ</tspan><tspan font-family='"Liberation Sans", sans-serif' font-weight="bold">M)</tspan></text>
<text transform="rotate(-90) translate(-344.56,125.80) scale(0.9386,1)" font-size="25.50" fill="#000" ><tspan font-family='"Liberation Serif", serif' font-weight="normal">Δ</tspan><tspan font-family='"Liberation Sans", sans-serif' font-weight="bold">Conductance (mS/cm</tspan><tspan font-family='"Liberation Sans", sans-serif' font-weight="bold" font-size="18.36" dy="-9.18">2</tspan><tspan font-family='"Liberation Sans", sans-serif' font-weight="bold" dy="9.18">)</tspan></text>
<text transform="translate(528.90,383.45) scale(0.9751,1)" font-size="24.65" fill="#000" ><tspan font-family='"Liberation Sans", sans-serif' font-weight="normal">G418</tspan></text>
<text transform="translate(249.20,285.79) scale(1.0902,1)" font-size="18.11" fill="#000" ><tspan font-family='"Liberation Sans", sans-serif' font-weight="bold">***</tspan></text>
<text transform="translate(424.00,103.84) scale(1.0794,1)" font-size="19.19" fill="#000" ><tspan font-family='"Liberation Sans", sans-serif' font-weight="bold">****</tspan></text>
<text transform="translate(232.92,24.15) scale(0.9612,1)" font-size="24.93" fill="#000" ><tspan font-family='"Liberation Sans", sans-serif' font-weight="normal">SRI-37240</tspan></text>
<text transform="translate(236.12,56.25) scale(0.9442,1)" font-size="25.35" fill="#000" ><tspan font-family='"Liberation Sans", sans-serif' font-weight="normal">SRI-37240 + G418</tspan></text>
<text transform="translate(719.27,36.32) scale(0.9947,1)" font-size="37.55" fill="#000" ><tspan font-family='"Liberation Sans", sans-serif' font-weight="bold">b.</tspan></text>
<text transform="translate(807.84,412.10) scale(1.0018,1)" font-size="26.48" fill="#000" ><tspan font-family='"Liberation Sans", sans-serif' font-weight="bold">0</tspan></text>
<text transform="translate(807.44,350.88) scale(1.0018,1)" font-size="26.48" fill="#000" ><tspan font-family='"Liberation Sans", sans-serif' font-weight="bold">1</tspan></text>
<text transform="translate(807.84,289.66) scale(1.0018,1)" font-size="26.48" fill="#000" ><tspan font-family='"Liberation Sans", sans-serif' font-weight="bold">2</tspan></text>
<text transform="translate(807.71,228.44) scale(1.0018,1)" font-size="26.48" fill="#000" ><tspan font-family='"Liberation Sans", sans-serif' font-weight="bold">3</tspan></text>
<text transform="translate(806.91,167.22) scale(1.0018,1)" font-size="26.48" fill="#000" ><tspan font-family='"Liberation Sans", sans-serif' font-weight="bold">4</tspan></text>
<text transform="translate(807.44,106.00) scale(1.0018,1)" font-size="26.48" fill="#000" ><tspan font-family='"Liberation Sans", sans-serif' font-weight="bold">5</tspan></text>
<text transform="translate(824.14,432.60) scale(0.9441,1)" font-size="24.65" fill="#000" ><tspan font-family='"Liberation Sans", sans-serif' font-weight="bold">0</tspan></text>
<text transform="translate(966.53,432.60) scale(0.9441,1)" font-size="24.65" fill="#000" ><tspan font-family='"Liberation Sans", sans-serif' font-weight="bold">50</tspan></text>
<text transform="translate(1108.39,432.60) scale(0.9441,1)" font-size="24.65" fill="#000" ><tspan font-family='"Liberation Sans", sans-serif' font-weight="bold">100</tspan></text>
<text transform="translate(956.89,461.08) scale(0.9835,1)" font-size="21.07" fill="#000" ><tspan font-family='"Liberation Sans", sans-serif' font-weight="bold">Time (min)</tspan></text>
<text transform="rotate(-90) translate(-362.63,790.50) scale(0.9426,1)" font-size="22.00" fill="#000" ><tspan font-family='"Liberation Serif", serif' font-weight="normal">Δ</tspan><tspan font-family='"Liberation Sans", sans-serif' font-weight="bold">Conductance (mS/cm</tspan><tspan font-family='"Liberation Sans", sans-serif' font-weight="bold" font-size="15.84" dy="-7.92">2</tspan><tspan font-family='"Liberation Sans", sans-serif' font-weight="bold" dy="7.92">)</tspan></text>
<text transform="rotate(-90) translate(-222.81,912.28) scale(1.0314,1)" font-size="22.45" fill="#000" ><tspan font-family='"Liberation Sans", sans-serif' font-weight="bold">Forskolin</tspan></text>
<text transform="rotate(-90) translate(-128.87,1017.06) scale(0.9426,1)" font-size="24.00" fill="#000" ><tspan font-family='"Liberation Sans", sans-serif' font-weight="bold">Iva</tspan></text>
<text transform="rotate(-90) translate(-132.92,1086.60) scale(0.9660,1)" font-size="23.80" fill="#000" ><tspan font-family='"Liberation Sans", sans-serif' font-weight="bold">CFTR</tspan><tspan font-family='"Liberation Sans", sans-serif' font-weight="bold" font-size="18.09" dy="7.14">Inh</tspan><tspan font-family='"Liberation Sans", sans-serif' font-weight="bold" dy="-7.14">-172</tspan></text>
<text transform="translate(1145.51,195.93) scale(1.0835,1)" font-size="16.60" fill="#000" ><tspan font-family='"Liberation Sans", sans-serif' font-weight="normal">Vehicle</tspan></text>
<text transform="translate(1144.68,218.43) scale(1.0676,1)" font-size="17.18" fill="#000" ><tspan font-family='"Liberation Sans", sans-serif' font-weight="normal">G418</tspan></text>
<text transform="translate(1144.78,237.43) scale(1.0573,1)" font-size="17.18" fill="#000" ><tspan font-family='"Liberation Sans", sans-serif' font-weight="normal">SRI-37240</tspan></text>
<text transform="translate(1148.08,258.63) scale(1.0600,1)" font-size="17.18" fill="#000" ><tspan font-family='"Liberation Sans", sans-serif' font-weight="normal">SRI-37240+ G418</tspan></text>
<text transform="translate(-1.47,552.93)" font-size="37.09" fill="#000" ><tspan font-family='"Liberation Sans", sans-serif' font-weight="bold">c.</tspan></text>
<text transform="translate(137.95,557.30) scale(0.9560,1)" font-size="29.00" fill="#000" ><tspan font-family='"Liberation Sans", sans-serif' font-weight="bold">4</tspan></text>
<text transform="translate(138.92,645.90) scale(0.9560,1)" font-size="29.00" fill="#000" ><tspan font-family='"Liberation Sans", sans-serif' font-weight="bold">2</tspan></text>
<text transform="translate(138.92,734.50) scale(0.9560,1)" font-size="29.00" fill="#000" ><tspan font-family='"Liberation Sans", sans-serif' font-weight="bold">0</tspan></text>
<text transform="translate(129.64,823.10) scale(0.9560,1)" font-size="29.00" fill="#000" ><tspan font-family='"Liberation Sans", sans-serif' font-weight="bold">-2</tspan></text>
<text transform="translate(128.67,911.70) scale(0.9560,1)" font-size="29.00" fill="#000" ><tspan font-family='"Liberation Sans", sans-serif' font-weight="bold">-4</tspan></text>
<text transform="translate(504.10,557.30) scale(0.9560,1)" font-size="29.00" fill="#000" ><tspan font-family='"Liberation Sans", sans-serif' font-weight="bold">16</tspan></text>
<text transform="translate(505.07,645.90) scale(0.9560,1)" font-size="29.00" fill="#000" ><tspan font-family='"Liberation Sans", sans-serif' font-weight="bold">8</tspan></text>
<text transform="translate(504.79,734.50) scale(0.9560,1)" font-size="29.00" fill="#000" ><tspan font-family='"Liberation Sans", sans-serif' font-weight="bold">0</tspan></text>
<text transform="translate(504.79,823.10) scale(0.9560,1)" font-size="29.00" fill="#000" ><tspan font-family='"Liberation Sans", sans-serif' font-weight="bold">-8</tspan></text>
<text transform="translate(504.79,911.70) scale(0.9560,1)" font-size="29.00" fill="#000" ><tspan font-family='"Liberation Sans", sans-serif' font-weight="bold">-16</tspan></text>
<text transform="rotate(-90) translate(-858.48,122.70) scale(0.9975,1)" font-size="24.50" fill="#000" ><tspan font-family='"Liberation Serif", serif' font-weight="normal">Δ</tspan><tspan font-family='"Liberation Sans", sans-serif' font-weight="bold">Conductance (mS/cm</tspan><tspan font-family='"Liberation Sans", sans-serif' font-weight="bold" font-size="17.64" dy="-8.82">2</tspan><tspan font-family='"Liberation Sans", sans-serif' font-weight="bold" dy="8.82">)</tspan></text>
<text transform="rotate(90) translate(553.30,-551.20) scale(0.9472,1)" font-size="25.50" fill="#000" ><tspan font-family='"Liberation Sans", sans-serif' font-weight="bold">%WT Conductance (mS/cm</tspan><tspan font-family='"Liberation Sans", sans-serif' font-weight="bold" font-size="18.36" dy="-9.18">2</tspan><tspan font-family='"Liberation Sans", sans-serif' font-weight="bold" dy="9.18">)</tspan></text>
<text transform="translate(198.82,569.79) scale(1.0152,1)" font-size="20.57" fill="#000" ><tspan font-family='"Liberation Sans", sans-serif' font-weight="normal">Iva</tspan></text>
<text transform="translate(198.91,595.60) scale(1.0210,1)" font-size="21.29" fill="#000" ><tspan font-family='"Liberation Sans", sans-serif' font-weight="normal">CFTR</tspan><tspan font-family='"Liberation Sans", sans-serif' font-weight="normal" font-size="14.90" dy="7.02">Inh</tspan><tspan font-family='"Liberation Sans", sans-serif' font-weight="normal" dy="-7.02">-172</tspan></text>
<text transform="translate(348.30,547.83) scale(1.0644,1)" font-size="19.46" fill="#000" ><tspan font-family='"Liberation Sans", sans-serif' font-weight="bold">****</tspan></text>
<text transform="translate(390.70,573.37) scale(1.1141,1)" font-size="18.65" fill="#000" ><tspan font-family='"Liberation Sans", sans-serif' font-weight="bold">****</tspan></text>
<text transform="translate(425.90,590.12) scale(1.1864,1)" font-size="17.57" fill="#000" ><tspan font-family='"Liberation Sans", sans-serif' font-weight="bold">****</tspan></text>
<text transform="translate(285.49,709.01) scale(1.1802,1)" font-size="17.84" fill="#000" ><tspan font-family='"Liberation Sans", sans-serif' font-weight="bold">*</tspan></text>
<text transform="translate(356.30,706.49) scale(1.1475,1)" font-size="18.11" fill="#000" ><tspan font-family='"Liberation Sans", sans-serif' font-weight="bold">**</tspan></text>
<text transform="translate(80.67,934.76) scale(1.0541,1)" font-size="24.37" fill="#000" ><tspan font-family='"Liberation Sans", sans-serif' font-weight="bold">G418</tspan></text>
<text transform="translate(52.95,986.85) scale(0.9878,1)" font-size="25.21" fill="#000" ><tspan font-family='"Liberation Sans", sans-serif' font-weight="bold">SRI-37240</tspan></text>
<text transform="translate(722.61,556.53) scale(1.0119,1)" font-size="36.87" fill="#000" ><tspan font-family='"Liberation Sans", sans-serif' font-weight="bold">d.</tspan></text>
<text transform="translate(868.20,598.40) scale(0.9570,1)" font-size="19.28" fill="#000" ><tspan font-family='"Liberation Sans", sans-serif' font-weight="bold">WT</tspan></text>
<text transform="translate(1051.26,597.42) scale(1.0377,1)" font-size="17.89" fill="#000" ><tspan font-family='"Liberation Sans", sans-serif' font-weight="bold">G542X</tspan></text>
<text transform="translate(736.08,683.11) scale(1.0057,1)" font-size="18.64" fill="#000" ><tspan font-family='"Liberation Sans", sans-serif' font-weight="bold">170Kd</tspan></text>
<text transform="translate(739.47,753.11) scale(1.0169,1)" font-size="18.64" fill="#000" ><tspan font-family='"Liberation Sans", sans-serif' font-weight="bold">130Kd</tspan></text>
<text transform="translate(1266.88,670.10) scale(1.0215,1)" font-size="18.34" fill="#000" ><tspan font-family='"Liberation Sans", sans-serif' font-weight="bold">Band C</tspan></text>
<text transform="translate(1266.78,742.90) scale(1.0215,1)" font-size="18.34" fill="#000" ><tspan font-family='"Liberation Sans", sans-serif' font-weight="bold">Band B</tspan></text>
<text transform="translate(1267.60,804.60) scale(1.0215,1)" font-size="19.57" fill="#000" ><tspan font-family='"Liberation Serif", serif' font-weight="normal">α</tspan><tspan font-family='"Liberation Sans", sans-serif' font-weight="bold">-Tubulin</tspan></text>
<text transform="translate(777.83,856.85) scale(1.1140,1)" font-size="14.93" fill="#000" ><tspan font-family='"Liberation Sans", sans-serif' font-weight="bold">G418</tspan></text>
<text transform="translate(758.80,889.95) scale(1.0689,1)" font-size="15.49" fill="#000" ><tspan font-family='"Liberation Sans", sans-serif' font-weight="bold">SRI-37240</tspan></text>
<text transform="translate(1.36,1091.22) scale(1.0262,1)" font-size="37.64" fill="#000" ><tspan font-family='"Liberation Sans", sans-serif' font-weight="bold">e.</tspan></text>
<text transform="translate(132.19,1148.50) scale(0.9698,1)" font-size="26.90" fill="#000" ><tspan font-family='"Liberation Sans", sans-serif' font-weight="bold">2.5</tspan></text>
<text transform="translate(132.58,1213.55) scale(0.9698,1)" font-size="26.90" fill="#000" ><tspan font-family='"Liberation Sans", sans-serif' font-weight="bold">2.0</tspan></text>
<text transform="translate(132.19,1278.60) scale(0.9698,1)" font-size="26.90" fill="#000" ><tspan font-family='"Liberation Sans", sans-serif' font-weight="bold">1.5</tspan></text>
<text transform="translate(132.58,1343.65) scale(0.9698,1)" font-size="26.90" fill="#000" ><tspan font-family='"Liberation Sans", sans-serif' font-weight="bold">1.0</tspan></text>
<text transform="translate(132.19,1408.70) scale(0.9698,1)" font-size="26.90" fill="#000" ><tspan font-family='"Liberation Sans", sans-serif' font-weight="bold">0.5</tspan></text>
<text transform="translate(132.58,1473.75) scale(0.9698,1)" font-size="26.90" fill="#000" ><tspan font-family='"Liberation Sans", sans-serif' font-weight="bold">0.0</tspan></text>
<text transform="translate(123.58,1538.80) scale(0.9698,1)" font-size="26.90" fill="#000" ><tspan font-family='"Liberation Sans", sans-serif' font-weight="bold">-0.5</tspan></text>
<text transform="rotate(-90) translate(-1515.91,113.40) scale(0.9611,1)" font-size="23.77" fill="#000" ><tspan font-family='"Liberation Sans", sans-serif' font-weight="bold">CFTR Band C Relative to </tspan><tspan font-family='"Liberation Serif", serif' font-weight="normal">α</tspan><tspan font-family='"Liberation Sans", sans-serif' font-weight="bold">-Tubulin</tspan></text>
<text transform="rotate(-45) translate(-1006.28,1257.83)" font-size="20.60" fill="#000" ><tspan font-family='"Liberation Sans", sans-serif' font-weight="bold">Vehicle</tspan></text>
<text transform="rotate(-45) translate(-942.85,1307.76)" font-size="20.60" fill="#000" ><tspan font-family='"Liberation Sans", sans-serif' font-weight="bold">G418</tspan></text>
<text transform="rotate(-45) translate(-935.81,1356.69)" font-size="20.60" fill="#000" ><tspan font-family='"Liberation Sans", sans-serif' font-weight="bold">SRI-37240</tspan></text>
<text transform="rotate(-45) translate(-949.29,1405.33)" font-size="20.60" fill="#000" ><tspan font-family='"Liberation Sans", sans-serif' font-weight="bold">SRI-37240+G418</tspan></text>
<text transform="translate(719.23,1097.80) scale(1.0247,1)" font-size="36.83" fill="#000" ><tspan font-family='"Liberation Sans", sans-serif' font-weight="bold">f.</tspan></text>
<text transform="translate(891.94,1142.40) scale(0.9798,1)" font-size="29.58" fill="#000" ><tspan font-family='"Liberation Sans", sans-serif' font-weight="bold">2.5</tspan></text>
<text transform="translate(892.38,1209.45) scale(0.9798,1)" font-size="29.58" fill="#000" ><tspan font-family='"Liberation Sans", sans-serif' font-weight="bold">2.0</tspan></text>
<text transform="translate(891.94,1276.50) scale(0.9798,1)" font-size="29.58" fill="#000" ><tspan font-family='"Liberation Sans", sans-serif' font-weight="bold">1.5</tspan></text>
<text transform="translate(892.38,1343.55) scale(0.9798,1)" font-size="29.58" fill="#000" ><tspan font-family='"Liberation Sans", sans-serif' font-weight="bold">1.0</tspan></text>
<text transform="translate(891.94,1410.60) scale(0.9798,1)" font-size="29.58" fill="#000" ><tspan font-family='"Liberation Sans", sans-serif' font-weight="bold">0.5</tspan></text>
<text transform="translate(892.38,1477.65) scale(0.9798,1)" font-size="29.58" fill="#000" ><tspan font-family='"Liberation Sans", sans-serif' font-weight="bold">0.0</tspan></text>
<text transform="rotate(-90) translate(-1461.91,879.10) scale(0.9331,1)" font-size="24.35" fill="#000" ><tspan font-family='"Liberation Sans", sans-serif' font-weight="bold">CFTR mRNA relative to GAPDH</tspan></text>
<text transform="translate(1140.80,1164.20) scale(1.0390,1)" font-size="20.00" fill="#000" ><tspan font-family='"Liberation Sans", sans-serif' font-weight="bold">**</tspan></text>
<text transform="translate(1170.99,1191.83) scale(1.1309,1)" font-size="19.46" fill="#000" ><tspan font-family='"Liberation Sans", sans-serif' font-weight="bold">****</tspan></text>
<text transform="translate(1044.29,1267.41) scale(1.0729,1)" font-size="19.73" fill="#000" ><tspan font-family='"Liberation Sans", sans-serif' font-weight="bold">**</tspan></text>
<text transform="translate(1113.90,1267.41) scale(1.0532,1)" font-size="19.73" fill="#000" ><tspan font-family='"Liberation Sans", sans-serif' font-weight="bold">**</tspan></text>
<text transform="translate(852.65,1499.39) scale(1.1280,1)" font-size="21.13" fill="#000" ><tspan font-family='"Liberation Sans", sans-serif' font-weight="bold">G418</tspan></text>
<text transform="translate(826.10,1546.99) scale(1.1044,1)" font-size="21.13" fill="#000" ><tspan font-family='"Liberation Sans", sans-serif' font-weight="bold">SRI-37240</tspan></text>
</g>
</svg>
</body></html>
